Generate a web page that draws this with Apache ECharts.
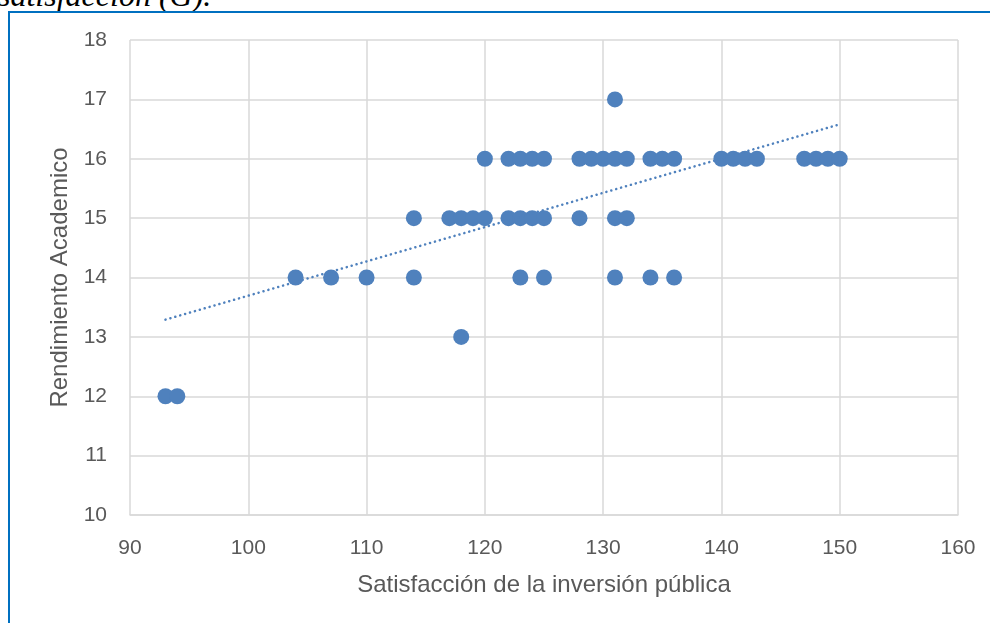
<!DOCTYPE html>
<html>
<head>
<meta charset="utf-8">
<script src="https://cdn.jsdelivr.net/npm/echarts@6/dist/echarts.min.js"></script>
<style>
  html, body { margin: 0; padding: 0; background: #fff; overflow: hidden; }
  .wrap { position: relative; width: 990px; height: 623px; overflow: hidden; }
  .caption {
    position: absolute; left: -2px; top: -21px;
    font: italic 32px/32px "Liberation Serif", serif; color: #000;
    white-space: nowrap;
  }
  .frame {
    position: absolute; left: 8px; top: 11px; width: 1000px; height: 700px;
    border-left: 2px solid #0070c0; border-top: 2px solid #0070c0;
  }
  #chart { position: absolute; left: 0; top: 0; width: 990px; height: 623px; }
</style>
</head>
<body>
<div class="wrap">
  <div class="caption">satisfacción (G).</div>
  <div class="frame"></div>
  <div id="chart"></div>
</div>
<script>
// valores: x = satisfaccion, y = rendimiento
var xVals = [93, 94,
  118,
  104, 107, 110, 114, 123, 125, 131, 134, 136,
  114, 117, 118, 119, 120, 122, 123, 124, 125, 128, 131, 132,
  120, 122, 123, 124, 125, 128, 129, 130, 131, 132, 134, 135, 136, 140, 141, 142, 143, 147, 148, 149, 150,
  131]
var yVals = [12, 12,
  13,
  14, 14, 14, 14, 14, 14, 14, 14, 14,
  15, 15, 15, 15, 15, 15, 15, 15, 15, 15, 15, 15,
  16, 16, 16, 16, 16, 16, 16, 16, 16, 16, 16, 16, 16, 16, 16, 16, 16, 16, 16, 16, 16,
  17]
// linea de tendencia (extremos)
var trendX = [93, 150]
var trendY = [13.29, 16.58]

var xTicks = [90, 100, 110, 120, 130, 140, 150, 160]
var yTicks = [10, 11, 12, 13, 14, 15, 16, 17, 18]

var blue = '#4f81bd'
var grey = '#d9d9d9'
var font = '"Liberation Sans", Arial, sans-serif'

var points = xVals.map(function (x, i) { return [x, yVals[i]] })
var trend = trendX.map(function (x, i) { return [x, trendY[i]] })

var myChart = echarts.init(document.getElementById('chart'), null, { renderer: 'canvas' })
myChart.setOption({
  animation: false,
  grid: { left: 130, right: 32, top: 40, bottom: 108 },
  xAxis: {
    type: 'value',
    min: xTicks[0],
    max: xTicks[xTicks.length - 1],
    interval: 10,
    name: 'Satisfacción de la inversión pública',
    nameLocation: 'middle',
    nameGap: 58,
    nameTextStyle: { fontFamily: font, fontSize: 24, color: '#595959' },
    axisLine: { show: true, lineStyle: { color: grey, width: 1.5 } },
    axisTick: { show: false },
    axisLabel: { fontFamily: font, fontSize: 21, color: '#595959', margin: 23 },
    splitLine: { show: true, lineStyle: { color: grey, width: 1.5 } }
  },
  yAxis: {
    type: 'value',
    min: yTicks[0],
    max: yTicks[yTicks.length - 1],
    interval: 1,
    name: 'Rendimiento Academico',
    nameLocation: 'middle',
    nameGap: 54,
    nameTextStyle: { fontFamily: font, fontSize: 24, color: '#595959' },
    axisLine: { show: false },
    axisTick: { show: false },
    axisLabel: { fontFamily: font, fontSize: 21, color: '#595959', margin: 23 },
    splitLine: { show: true, lineStyle: { color: grey, width: 1.5 } }
  },
  series: [{
    type: 'scatter',
    data: points,
    symbol: 'circle',
    symbolSize: 16,
    itemStyle: { color: blue, opacity: 1 },
    z: 3
  }, {
    type: 'line',
    data: trend,
    symbol: 'none',
    lineStyle: { color: blue, width: 2.5, type: [0.1, 5], cap: 'round' },
    z: 4
  }]
})
</script>
</body>
</html>
